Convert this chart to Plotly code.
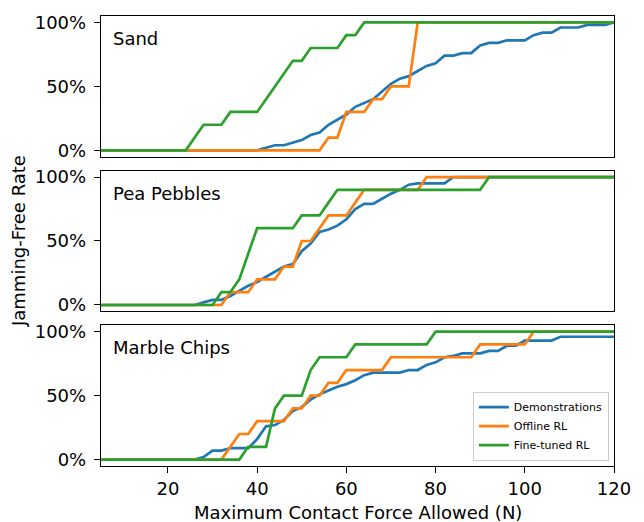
import plotly.graph_objects as go

force_n = [0, 2, 4, 6, 8, 10, 12, 14, 16, 18,
           20, 22, 24, 26, 28, 30, 32, 34, 36, 38,
           40, 42, 44, 46, 48, 50, 52, 54, 56, 58,
           60, 62, 64, 66, 68, 70, 72, 74, 76, 78,
           80, 82, 84, 86, 88, 90, 92, 94, 96, 98,
           100, 102, 104, 106, 108, 110, 112, 114, 116, 118,
           120]

panels = ["Sand", "Pea Pebbles", "Marble Chips"]
series_names = ["Demonstrations", "Offline RL", "Fine-tuned RL"]

sand_demo = [0, 0, 0, 0, 0, 0, 0, 0, 0, 0,
             0, 0, 0, 0, 0, 0, 0, 0, 0, 0,
             0, .02, .04, .04, .06, .08, .12, .14, .20, .24,
             .28, .34, .37, .40, .46, .52, .56, .58, .62, .66,
             .68, .74, .74, .76, .76, .82, .84, .84, .86, .86,
             .86, .90, .92, .92, .96, .96, .96, .98, .98, .98,
             1.0]
sand_offline = [0, 0, 0, 0, 0, 0, 0, 0, 0, 0,
                0, 0, 0, 0, 0, 0, 0, 0, 0, 0,
                0, 0, 0, 0, 0, 0, 0, 0, .1, .1,
                .3, .3, .3, .4, .4, .5, .5, .5, 1, 1,
                1, 1, 1, 1, 1, 1, 1, 1, 1, 1,
                1, 1, 1, 1, 1, 1, 1, 1, 1, 1,
                1]
sand_finetuned = [0, 0, 0, 0, 0, 0, 0, 0, 0, 0,
                  0, 0, 0, .1, .2, .2, .2, .3, .3, .3,
                  .3, .4, .5, .6, .7, .7, .8, .8, .8, .8,
                  .9, .9, 1, 1, 1, 1, 1, 1, 1, 1,
                  1, 1, 1, 1, 1, 1, 1, 1, 1, 1,
                  1, 1, 1, 1, 1, 1, 1, 1, 1, 1,
                  1]

pea_demo = [0, 0, 0, 0, 0, 0, 0, 0, 0, 0,
            0, 0, 0, 0, .02, .04, .04, .07, .11, .15,
            .18, .22, .26, .30, .32, .42, .48, .57, .59, .62,
            .67, .75, .79, .79, .83, .87, .90, .94, .95, .95,
            .95, .95, 1, 1, 1, 1, 1, 1, 1, 1,
            1, 1, 1, 1, 1, 1, 1, 1, 1, 1,
            1]
pea_offline = [0, 0, 0, 0, 0, 0, 0, 0, 0, 0,
               0, 0, 0, 0, 0, 0, 0, .1, .1, .1,
               .2, .2, .2, .3, .3, .5, .5, .6, .7, .7,
               .7, .8, .9, .9, .9, .9, .9, .9, .9, 1,
               1, 1, 1, 1, 1, 1, 1, 1, 1, 1,
               1, 1, 1, 1, 1, 1, 1, 1, 1, 1,
               1]
pea_finetuned = [0, 0, 0, 0, 0, 0, 0, 0, 0, 0,
                 0, 0, 0, 0, 0, 0, .1, .1, .2, .4,
                 .6, .6, .6, .6, .6, .7, .7, .7, .8, .9,
                 .9, .9, .9, .9, .9, .9, .9, .9, .9, .9,
                 .9, .9, .9, .9, .9, .9, 1, 1, 1, 1,
                 1, 1, 1, 1, 1, 1, 1, 1, 1, 1,
                 1]

marble_demo = [0, 0, 0, 0, 0, 0, 0, 0, 0, 0,
               0, 0, 0, 0, .02, .07, .07, .09, .09, .09,
               .16, .26, .27, .31, .38, .41, .47, .51, .54, .57,
               .59, .62, .66, .68, .68, .68, .68, .70, .70, .74,
               .76, .80, .81, .83, .83, .83, .85, .85, .89, .89,
               .93, .93, .93, .93, .96, .96, .96, .96, .96, .96,
               .96]
marble_offline = [0, 0, 0, 0, 0, 0, 0, 0, 0, 0,
                  0, 0, 0, 0, 0, 0, 0, .1, .2, .2,
                  .3, .3, .3, .3, .4, .4, .5, .5, .6, .6,
                  .7, .7, .7, .7, .7, .8, .8, .8, .8, .8,
                  .8, .8, .8, .8, .8, .9, .9, .9, .9, .9,
                  .9, 1, 1, 1, 1, 1, 1, 1, 1, 1,
                  1]
marble_finetuned = [0, 0, 0, 0, 0, 0, 0, 0, 0, 0,
                    0, 0, 0, 0, 0, 0, 0, 0, 0, .1,
                    .1, .1, .4, .5, .5, .5, .7, .8, .8, .8,
                    .8, .9, .9, .9, .9, .9, .9, .9, .9, .9,
                    1, 1, 1, 1, 1, 1, 1, 1, 1, 1,
                    1, 1, 1, 1, 1, 1, 1, 1, 1, 1,
                    1]

x_ticks = [20, 40, 60, 80, 100, 120]
y_ticks = [0, 0.5, 1.0]
y_ticklabels = ["0%", "50%", "100%"]

colors = ["#1f77b4", "#ff7f0e", "#2ca02c"]
panel_data = [
    [sand_demo, sand_offline, sand_finetuned],
    [pea_demo, pea_offline, pea_finetuned],
    [marble_demo, marble_offline, marble_finetuned],
]

FONT = "DejaVu Sans"
fig = go.Figure()

domains = [[312 / 454, 1.0], [156 / 454, 298 / 454], [0.0, 142 / 454]]

for p, series in enumerate(panel_data):
    ax = "" if p == 0 else str(p + 1)
    for s, vals in enumerate(series):
        fig.add_trace(go.Scatter(
            x=force_n, y=vals, mode="lines",
            name=series_names[s],
            line=dict(color=colors[s], width=2.7),
            xaxis="x" + ax, yaxis="y" + ax,
            showlegend=(p == 2), legendgroup=series_names[s],
        ))

layout = dict(
    width=644, height=522,
    margin=dict(l=101, r=30, t=12, b=56),
    paper_bgcolor="white", plot_bgcolor="white",
    font=dict(family=FONT, size=18, color="black"),
    showlegend=True,
    legend=dict(x=0.99, y=0.012, xanchor="right", yanchor="bottom",
                bgcolor="rgba(255,255,255,0.8)", bordercolor="#cccccc",
                borderwidth=1, font=dict(family=FONT, size=11),
                tracegroupgap=0, itemwidth=30),
)

for p in range(3):
    ax = "" if p == 0 else str(p + 1)
    last = p == 2
    layout["xaxis" + ax] = dict(
        domain=[0, 1], range=[5, 120], anchor="y" + ax,
        matches=None if p == 0 else "x",
        tickvals=x_ticks, showticklabels=last,
        ticks="outside" if last else "", ticklen=6, tickwidth=1.4,
        tickcolor="black",
        showline=True, mirror=True, linecolor="black", linewidth=1.4,
        showgrid=False, zeroline=False,
        tickfont=dict(family=FONT, size=18),
    )
    layout["yaxis" + ax] = dict(
        domain=domains[p], range=[-0.05, 1.05], anchor="x" + ax,
        tickvals=y_ticks, ticktext=y_ticklabels,
        ticks="outside", ticklen=6, tickwidth=1.4, tickcolor="black",
        ticklabelstandoff=4,
        showline=True, mirror=True, linecolor="black", linewidth=1.4,
        showgrid=False, zeroline=False,
        tickfont=dict(family=FONT, size=18),
    )

fig.update_layout(**layout)

for p, name in enumerate(panels):
    ax = "" if p == 0 else str(p + 1)
    fig.add_annotation(
        text=name, xref="x" + ax + " domain", yref="y" + ax + " domain",
        x=0.019, y=0.84, xanchor="left", yanchor="middle",
        showarrow=False, font=dict(family=FONT, size=18, color="black"),
    )

fig.add_annotation(
    text="Jamming-Free Rate", xref="paper", yref="paper",
    x=0, y=0.5, xshift=-83, xanchor="center", yanchor="middle",
    textangle=-90, showarrow=False,
    font=dict(family=FONT, size=18, color="black"),
)
fig.add_annotation(
    text="Maximum Contact Force Allowed (N)", xref="paper", yref="paper",
    x=0.5, y=0, yshift=-46, xanchor="center", yanchor="middle",
    showarrow=False, font=dict(family=FONT, size=18, color="black"),
)

fig.write_html(
    "out.html",
    config={"displayModeBar": False},
    post_script="document.body.style.margin='0';document.body.style.padding='0';",
)
